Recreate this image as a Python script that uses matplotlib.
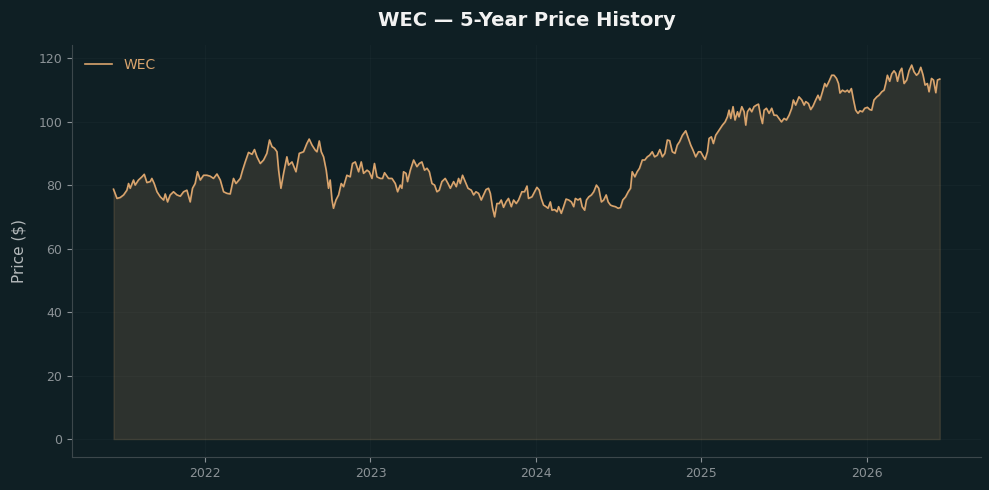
import matplotlib
matplotlib.use("Agg")
import matplotlib.pyplot as plt
import matplotlib.dates as mdates
import numpy as np
import pandas as pd

ticker = "WEC"

# sample times as decimal years
years = [
    2021.445, 2021.466, 2021.486, 2021.506, 2021.526, 2021.536, 2021.546, 2021.566, 2021.576, 2021.596,
    2021.617, 2021.631, 2021.647, 2021.667, 2021.677, 2021.691, 2021.708, 2021.728, 2021.748, 2021.758,
    2021.772, 2021.788, 2021.808, 2021.829, 2021.849, 2021.869, 2021.889, 2021.909, 2021.923, 2021.939,
    2021.953, 2021.970, 2021.990, 2022.010, 2022.030, 2022.050, 2022.071, 2022.091, 2022.111, 2022.131,
    2022.151, 2022.171, 2022.186, 2022.212, 2022.226, 2022.242, 2022.262,
    2022.283, 2022.298, 2022.313, 2022.333, 2022.353, 2022.373, 2022.389, 2022.404, 2022.419, 2022.434,
    2022.444, 2022.458, 2022.474, 2022.494, 2022.504, 2022.525, 2022.549, 2022.569, 2022.595, 2022.615,
    2022.629, 2022.646, 2022.666, 2022.676, 2022.690, 2022.702, 2022.716, 2022.732, 2022.746, 2022.756,
    2022.767, 2022.776, 2022.791, 2022.807, 2022.823, 2022.837, 2022.857, 2022.877, 2022.891, 2022.908,
    2022.928, 2022.944, 2022.958, 2022.979, 2022.992, 2023.009, 2023.024, 2023.039, 2023.059, 2023.073,
    2023.085,
    2023.109, 2023.130, 2023.150, 2023.164, 2023.180, 2023.190, 2023.200, 2023.215, 2023.224, 2023.241,
    2023.261, 2023.281, 2023.295, 2023.311, 2023.327, 2023.342, 2023.356, 2023.372, 2023.388, 2023.402,
    2023.416, 2023.432, 2023.452, 2023.469, 2023.483, 2023.503, 2023.519, 2023.533, 2023.543, 2023.557,
    2023.573, 2023.590, 2023.610, 2023.624, 2023.638, 2023.654, 2023.670, 2023.684, 2023.699, 2023.714,
    2023.725, 2023.739, 2023.751, 2023.765, 2023.779, 2023.791, 2023.805, 2023.820, 2023.835, 2023.852,
    2023.866, 2023.882, 2023.896, 2023.916, 2023.932,
    2023.947, 2023.956, 2023.977, 2023.993, 2024.007, 2024.021, 2024.033, 2024.047, 2024.062, 2024.074,
    2024.088, 2024.098, 2024.114, 2024.128, 2024.138, 2024.154, 2024.168, 2024.183, 2024.199, 2024.215,
    2024.229, 2024.239, 2024.255, 2024.269, 2024.280, 2024.295, 2024.306, 2024.320, 2024.336, 2024.350,
    2024.366, 2024.380, 2024.396, 2024.410, 2024.425, 2024.437, 2024.451, 2024.465, 2024.481, 2024.497,
    2024.511, 2024.525, 2024.542, 2024.558, 2024.572, 2024.582, 2024.598, 2024.612, 2024.626, 2024.643,
    2024.658, 2024.673, 2024.687, 2024.703, 2024.717, 2024.733, 2024.749, 2024.764, 2024.779, 2024.794,
    2024.808, 2024.824, 2024.840, 2024.854, 2024.868, 2024.885, 2024.905, 2024.921, 2024.935, 2024.949,
    2024.965, 2024.982, 2024.995, 2025.012, 2025.022, 2025.036, 2025.046, 2025.060, 2025.072, 2025.086,
    2025.100, 2025.112, 2025.127, 2025.143, 2025.157, 2025.167, 2025.177, 2025.191, 2025.203, 2025.218,
    2025.227, 2025.244, 2025.258, 2025.268, 2025.278, 2025.292, 2025.304, 2025.318, 2025.333, 2025.345,
    2025.359, 2025.369, 2025.379, 2025.393, 2025.409, 2025.425, 2025.439, 2025.455, 2025.469, 2025.484,
    2025.500, 2025.514, 2025.530, 2025.546, 2025.556, 2025.570, 2025.590, 2025.607, 2025.621,
    2025.631, 2025.647, 2025.661, 2025.675, 2025.691, 2025.705, 2025.717, 2025.732, 2025.746, 2025.756,
    2025.772, 2025.788, 2025.802, 2025.817, 2025.829, 2025.838, 2025.853, 2025.869, 2025.883, 2025.893,
    2025.907, 2025.920, 2025.933, 2025.947, 2025.959, 2025.974, 2025.988, 2026.004, 2026.018, 2026.030,
    2026.044, 2026.061, 2026.074, 2026.091, 2026.105, 2026.115, 2026.125, 2026.139, 2026.151, 2026.165,
    2026.176, 2026.186, 2026.200, 2026.212, 2026.226, 2026.242, 2026.256, 2026.272, 2026.286, 2026.301,
    2026.313, 2026.327, 2026.341, 2026.353, 2026.367, 2026.377, 2026.392, 2026.404, 2026.418, 2026.428,
    2026.442,
]

prices = [
    78.7, 75.8, 76.1, 76.9, 78.4, 80.5, 79.0, 81.6, 80.0, 81.6,
    82.6, 83.4, 80.8, 81.1, 82.1, 80.5, 77.9, 76.3, 75.3, 77.2,
    74.7, 76.9, 77.9, 76.9, 76.5, 77.9, 78.4, 74.7, 79.0, 80.5,
    84.2, 81.6, 83.1, 83.1, 82.8, 82.1, 83.5, 81.6, 77.9, 77.4,
    77.2, 82.1, 80.5, 82.1, 84.7, 87.3, 90.3,
    89.7, 91.2, 88.9, 86.8, 87.9, 90.0, 94.2, 92.1, 91.6, 90.5,
    84.7, 79.0, 83.7, 88.9, 86.3, 87.3, 84.2, 90.0, 90.5, 93.1,
    94.5, 92.6, 91.0, 90.5, 93.9, 90.5, 88.9, 84.7, 79.0, 81.6,
    75.3, 72.7, 75.3, 76.9, 80.5, 79.5, 83.1, 82.6, 86.8, 87.3,
    84.2, 87.3, 83.7, 84.7, 84.2, 82.1, 86.8, 82.6, 82.1, 82.1,
    83.9,
    82.1, 82.1, 80.5, 77.9, 80.0, 79.0, 84.2, 83.7, 81.1, 84.7,
    87.9, 85.8, 86.8, 87.3, 84.7, 85.3, 84.2, 80.5, 80.0, 77.9,
    78.4, 81.1, 82.1, 80.5, 79.0, 81.1, 79.5, 82.1, 80.5, 83.1,
    81.1, 79.0, 78.4, 76.9, 77.9, 77.4, 75.3, 76.9, 78.6, 79.0,
    77.4, 72.7, 70.0, 74.2, 74.2, 75.3, 73.0, 74.7, 75.8, 73.2,
    75.3, 74.2, 75.3, 77.9, 77.9,
    79.7, 75.8, 76.3, 77.9, 79.3, 78.4, 75.8, 73.7, 73.2, 72.7,
    74.7, 72.1, 72.3, 71.6, 73.2, 71.1, 73.2, 75.6, 75.3, 74.7,
    73.2, 75.8, 75.3, 75.8, 73.2, 72.1, 75.3, 76.3, 76.9, 77.9,
    80.0, 79.0, 74.7, 75.3, 76.9, 74.7, 73.7, 73.4, 73.2, 72.7,
    72.9, 75.3, 76.3, 77.9, 79.0, 84.2, 82.6, 84.2, 85.3, 87.9,
    87.9, 88.9, 89.4, 90.5, 88.9, 89.4, 91.2, 88.9, 90.0, 94.2,
    94.0, 90.5, 90.0, 92.6, 93.7, 95.7, 97.1, 94.7, 92.6, 91.0,
    88.9, 90.5, 90.5, 88.9, 88.1, 90.5, 94.7, 95.2, 93.1, 95.7,
    96.8, 97.8, 98.9, 99.9, 101.5, 103.6, 101.0, 104.7, 100.5, 103.1,
    101.5, 104.7, 103.1, 98.9, 103.1, 104.2, 103.1, 104.7, 105.2, 105.5,
    101.5, 99.4, 103.6, 104.2, 102.6, 104.2, 102.0, 102.0, 101.0, 99.9,
    101.0, 100.5, 102.0, 104.2, 106.8, 105.2, 107.8, 106.8, 105.2,
    106.3, 105.7, 103.8, 104.9, 106.8, 108.3, 106.8, 109.4, 112.0, 111.0,
    112.7, 114.6, 114.6, 113.6, 112.0, 109.0, 109.9, 109.4, 109.9, 109.2,
    110.4, 106.8, 103.6, 102.6, 103.4, 103.1, 104.2, 104.5, 103.8, 103.6,
    106.8, 107.8, 108.3, 109.4, 109.9, 112.0, 114.6, 112.7, 115.0, 116.0,
    115.2, 112.7, 115.7, 116.8, 112.0, 113.1, 116.0, 117.8, 115.7, 114.6,
    115.2, 117.1, 114.6, 111.5, 112.0, 109.4, 113.6, 113.1, 109.1, 113.1,
    113.4,
]


def decimal_year_to_date(y):
    year = int(np.floor(y))
    start = pd.Timestamp(year=year, month=1, day=1)
    end = pd.Timestamp(year=year + 1, month=1, day=1)
    return start + (end - start) * (y - year)


dates = pd.to_datetime([decimal_year_to_date(y) for y in years])
df = pd.DataFrame({"Date": dates, "Close": prices})

bg = "#0f1f24"
line_color = "#d9a46d"
text_color = "#8b9296"

fig = plt.figure(figsize=(9.89, 4.90), dpi=100, facecolor=bg)
ax = fig.add_axes([0.073, 0.067, 0.919, 0.841])
ax.set_facecolor(bg)

ax.plot(df["Date"], df["Close"], color=line_color, linewidth=1.2, label=ticker)
ax.fill_between(df["Date"], df["Close"], 0, color=line_color, alpha=0.15, linewidth=1.0)

ax.set_ylim(-5.7, 124.1)
ax.margins(x=0.05)
ax.xaxis.set_major_locator(mdates.YearLocator())
ax.xaxis.set_major_formatter(mdates.DateFormatter("%Y"))

ax.set_title(f"{ticker} \u2014 5-Year Price History", color="#f2f2f2", fontsize=14,
             fontweight="bold", pad=14)
ax.set_ylabel("Price ($)", color="#b4b9bb", fontsize=11, labelpad=9)

ax.tick_params(colors=text_color, labelsize=9)
for side in ["top", "right"]:
    ax.spines[side].set_visible(False)
for side in ["left", "bottom"]:
    ax.spines[side].set_color("#3c474b")

ax.grid(True, color="#ffffff", alpha=0.025, linewidth=0.8)

leg = ax.legend(loc="upper left", frameon=False, fontsize=10)
for t in leg.get_texts():
    t.set_color(line_color)

fig.savefig("out.png", dpi=100, facecolor=bg)
